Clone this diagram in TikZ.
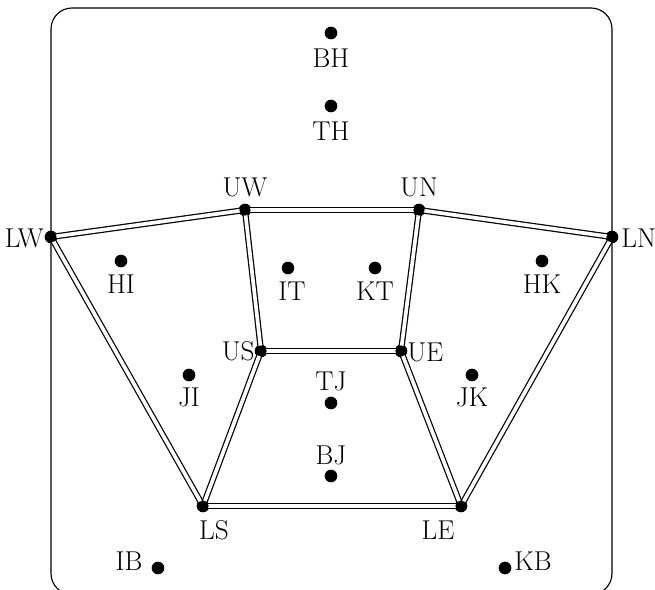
\documentclass[tikz,border=0pt]{standalone}
\begin{document}
\begin{tikzpicture}[x=0.02cm,y=-0.02cm,
  dot/.style={circle,fill=black,inner sep=0pt,minimum size=7.2pt},
  lbl/.style={inner sep=0pt,font=\fontsize{15.5}{18}\selectfont},
  wall/.style={double,line width=0.7pt,double distance=2.1pt},
  frame/.style={line width=0.65pt,rounded corners=0.42cm}]
\useasboundingbox (0,0) rectangle (655,590);
\draw[frame] (51,8) rectangle (612,594.5);
% points
\node[dot] (BH) at (331,33) {};
\node[dot] (TH) at (331,106) {};
\node[dot] (UW) at (245,210) {};
\node[dot] (UN) at (419,210) {};
\node[dot] (LW) at (51,237) {};
\node[dot] (LN) at (612,237) {};
\node[dot] (HI) at (121,261) {};
\node[dot] (IT) at (288,268) {};
\node[dot] (KT) at (375,268) {};
\node[dot] (HK) at (542,261) {};
\node[dot] (US) at (261,351) {};
\node[dot] (UE) at (401,351) {};
\node[dot] (JI) at (189,375) {};
\node[dot] (JK) at (472,375) {};
\node[dot] (TJ) at (331,403) {};
\node[dot] (BJ) at (331,476) {};
\node[dot] (LS) at (203,506) {};
\node[dot] (LE) at (461,506) {};
\node[dot] (IB) at (158,568) {};
\node[dot] (KB) at (505,568) {};
% labels
\node[lbl] (BHl) at (331,58) {BH};
\node[lbl] (THl) at (331,131) {TH};
\node[lbl] (UWl) at (245,187) {UW};
\node[lbl] (UNl) at (419,187) {UN};
\node[lbl,anchor=east] (LWl) at (44,238) {LW};
\node[lbl,anchor=west] (LNl) at (621,238) {LN};
\node[lbl] (HIl) at (121,284) {HI};
\node[lbl] (ITl) at (292,291) {IT};
\node[lbl] (KTl) at (375,291) {KT};
\node[lbl] (HKl) at (542,284) {HK};
\node[lbl,anchor=east] (USl) at (255,351) {US};
\node[lbl,anchor=west] (UEl) at (407,352) {UE};
\node[lbl] (JIl) at (189,397) {JI};
\node[lbl] (JKl) at (472,397) {JK};
\node[lbl] (TJl) at (331,381) {TJ};
\node[lbl] (BJl) at (331,455) {BJ};
\node[lbl] (LSl) at (214,530) {LS};
\node[lbl] (LEl) at (438,530) {LE};
\node[lbl] (IBl) at (129,561) {IB};
\node[lbl] (KBl) at (533,561) {KB};
% walls
\draw[wall] (LW.center) -- (UW.center);
\draw[wall] (UW.center) -- (UN.center);
\draw[wall] (UN.center) -- (LN.center);
\draw[wall] (LW.center) -- (LS.center);
\draw[wall] (LN.center) -- (LE.center);
\draw[wall] (UW.center) -- (US.center);
\draw[wall] (UN.center) -- (UE.center);
\draw[wall] (US.center) -- (UE.center);
\draw[wall] (US.center) -- (LS.center);
\draw[wall] (UE.center) -- (LE.center);
\draw[wall] (LS.center) -- (LE.center);
% redraw corner dots on top of the walls
\foreach \n in {UW,UN,LW,LN,US,UE,LS,LE} \fill (\n) circle (3.2pt);
\end{tikzpicture}
\end{document}
